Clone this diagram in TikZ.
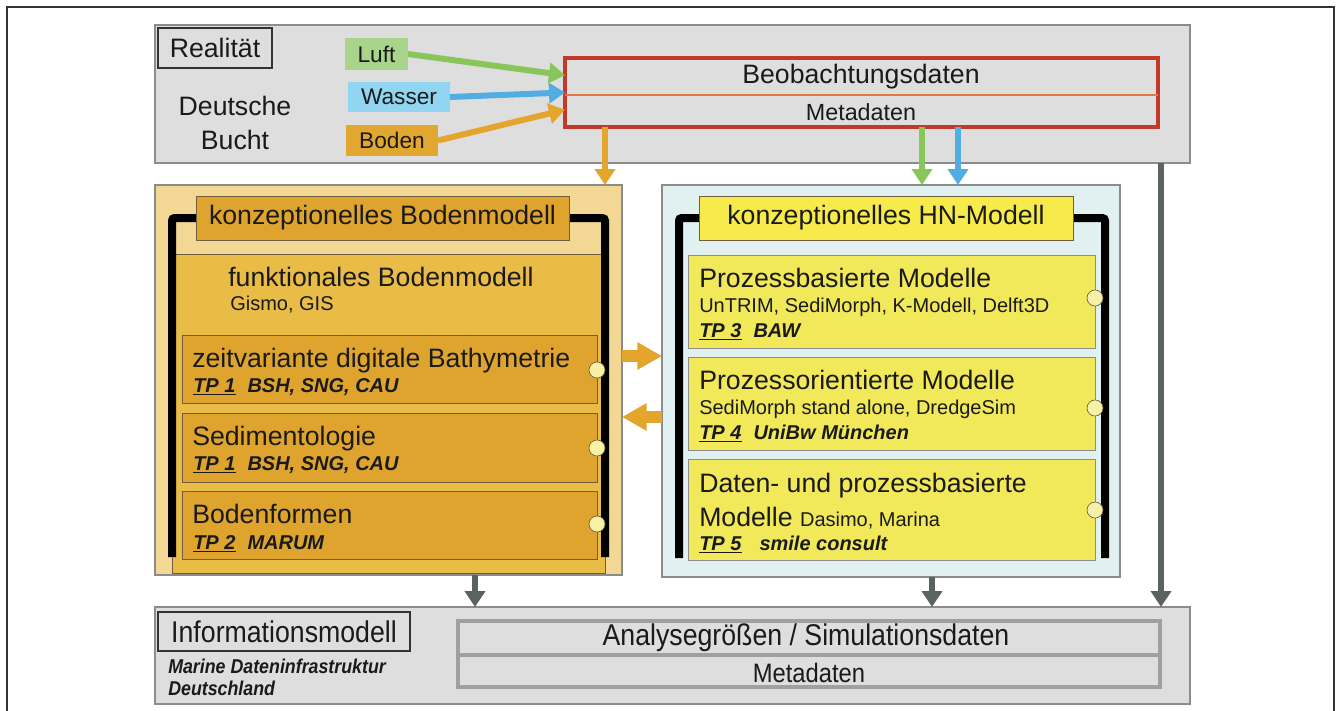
\documentclass[tikz,border=0pt]{standalone}
\usepackage{fontspec}
\setmainfont{Liberation Sans}
\newfontfamily\narrowfont[FakeStretch=0.89]{Liberation Sans}
\usetikzlibrary{arrows.meta,fit,calc}

\definecolor{grayfill}{HTML}{DEDEDE}
\definecolor{grayline}{HTML}{8C8C8C}
\definecolor{framec}{HTML}{333333}
\definecolor{tanfill}{HTML}{F2D894}
\definecolor{innerfill}{HTML}{E8BC46}
\definecolor{subfill}{HTML}{DEA42E}
\definecolor{brownline}{HTML}{6E5E3E}
\definecolor{cyanfill}{HTML}{E1F1F2}
\definecolor{yeltitle}{HTML}{F6EB4B}
\definecolor{yelsub}{HTML}{F1E85A}
\definecolor{dotfill}{HTML}{F6F1A6}
\definecolor{greenarr}{HTML}{88C65A}
\definecolor{greenfill}{HTML}{A9D48C}
\definecolor{bluearr}{HTML}{52ADE2}
\definecolor{bluefill}{HTML}{92D5F0}
\definecolor{orangearr}{HTML}{E3A52B}
\definecolor{bodenfill}{HTML}{E2A730}
\definecolor{redc}{HTML}{C0392B}
\definecolor{divline}{HTML}{E07A40}
\definecolor{darkarr}{HTML}{5A6362}
\definecolor{analline}{HTML}{A0A0A0}
\definecolor{txtc}{HTML}{1A1A1A}

\newcommand\fbig{\fontsize{20}{25}\selectfont}
\newcommand\fmid{\fontsize{17}{20}\selectfont}
\newcommand\fmeta{\fontsize{17.5}{21}\selectfont}
\newcommand\fsmall{\fontsize{15}{18}\selectfont}
\newcommand\fnbig{\narrowfont\fontsize{22.5}{27}\selectfont}
\newcommand\fnmid{\narrowfont\fontsize{20}{24}\selectfont}
\newcommand\fnsmall{\narrowfont\bfseries\itshape\fontsize{15}{18}\selectfont}
\newcommand\tpline[2]{{\fsmall\bfseries\itshape\underline{#1}\hspace{0.6em}#2}}

\tikzset{
  fitbox/.style={rectangle, inner sep=0pt, outer sep=0pt},
  graybox/.style={fitbox, draw=grayline, fill=grayfill, line width=1.2pt},
  labelbox/.style={fitbox, draw=framec, fill=grayfill, line width=0.8pt},
  colbox/.style={fitbox, fill=#1},
  subbox/.style={fitbox, draw=brownline, fill=subfill, line width=0.7pt},
  yelbox/.style={fitbox, draw=grayline, fill=yelsub, line width=0.7pt},
  bracket/.style={line width=6pt, black, rounded corners=2pt},
  dot/.style={circle, draw=brownline, fill=dotfill, line width=0.5pt, minimum size=12pt, inner sep=0pt},
  txt/.style={anchor=base west, inner sep=0pt, text=txtc},
  ctxt/.style={inner sep=0pt, text=txtc},
  thinarrow/.style={line width=4.5pt, draw=#1, -{Triangle[width=15pt,length=12pt]}},
  blockarrow/.style={line width=9pt, draw=orangearr, -{Triangle[width=19.5pt,length=18.5pt]}}
}

\begin{document}
\begin{tikzpicture}[x=0.75pt,y=-0.75pt]
\useasboundingbox (0,0) rectangle (1340,711);
\fill[white] (0,0) rectangle (1340,711);
\draw[framec, line width=1pt] (7,720) -- (7,7) -- (1334,7) -- (1334,720);

% ---------- Realitaet ----------
\node[graybox, fit={(155,25) (1190,163)}] (real) {};
\node[labelbox, fit={(158,28) (272,68)}] (reallab) {};
\node[ctxt, font=\fbig] (realt) at (reallab.center) {Realität};
\node[ctxt, font=\fbig, align=center] (bucht) at (235,123) {Deutsche\\Bucht};
\node[colbox=greenfill, fit={(345,38) (408,70)}] (luft) {};
\node[ctxt, font=\fmid] (luftt) at (luft.center) {Luft};
\node[colbox=bluefill, fit={(348,82) (450,112)}] (wasser) {};
\node[ctxt, font=\fmid] (wassert) at (wasser.center) {Wasser};
\node[colbox=bodenfill, fit={(346,125) (438,156)}] (boden) {};
\node[ctxt, font=\fmid] (bodent) at (boden.center) {Boden};
\node[fitbox, draw=redc, fill=grayfill, line width=2.3pt, fit={(565,58) (1158,127)}] (beob) {};
\coordinate (ydiv) at (0,95);
\draw[divline, line width=1pt] (beob.west |- ydiv) -- (beob.east |- ydiv);
\node[ctxt, font=\fbig] (beobt) at (861,77) {Beobachtungsdaten};
\node[ctxt, font=\fmeta] (beobm) at (861,112) {Metadaten};

\draw[thinarrow=greenarr] (luft.east) -- ($(beob.north west)!0.25!(beob.south west)$);
\draw[thinarrow=bluearr] (wasser.east) -- ($(beob.north west)!0.5!(beob.south west)$);
\draw[thinarrow=orangearr] (boden.east) -- ($(beob.north west)!0.75!(beob.south west)$);

% ---------- Bodenmodell ----------
\node[fitbox, draw=grayline, fill=tanfill, line width=1pt, fit={(155,185) (622,575)}] (lbox) {};
\node[fitbox, draw=brownline, fill=innerfill, line width=0.6pt, fit={(172,254) (605,573)}] (lfunk) {};
\draw[bracket] (196,218) -- (172,218) -- (172,557);
\draw[bracket] (569,218) -- (605,218) -- (605,557);
\node[fitbox, draw=brownline, fill=subfill, line width=0.7pt, fit={(196,196) (569,240)}] (ltitle) {};
\node[ctxt, font=\fbig] (ltitlet) at (ltitle.center) {konzeptionelles Bodenmodell};
\node[txt, font=\fbig] (funk1) at (228,286) {funktionales Bodenmodell};
\node[txt, font=\fsmall] (funk2) at (230,310) {Gismo, GIS};
\node[subbox, fit={(182,335) (597,403)}] (lzeit) {};
\node[subbox, fit={(182,413) (597,482)}] (lsed) {};
\node[subbox, fit={(182,491) (597,559)}] (lform) {};
\node[txt, font=\fbig] (zeit1) at (192,367) {zeitvariante digitale Bathymetrie};
\node[txt] (zeit2) at (193,392) {\tpline{TP 1}{BSH, SNG, CAU}};
\node[txt, font=\fbig] (sed1) at (192,445) {Sedimentologie};
\node[txt] (sed2) at (193,470) {\tpline{TP 1}{BSH, SNG, CAU}};
\node[txt, font=\fbig] (form1) at (192,523) {Bodenformen};
\node[txt] (form2) at (193,549) {\tpline{TP 2}{MARUM}};
\node[dot] (d1) at (597,370) {};
\node[dot] (d2) at (597,448) {};
\node[dot] (d3) at (597,524) {};

% ---------- HN-Modell ----------
\node[fitbox, draw=grayline, fill=cyanfill, line width=1pt, fit={(662,185) (1120,577)}] (hn) {};
\draw[bracket] (699,218) -- (679,218) -- (679,558);
\draw[bracket] (1073,218) -- (1105,218) -- (1105,558);
\node[fitbox, draw=brownline, fill=yeltitle, line width=0.7pt, fit={(699,196) (1073,240)}] (rtitle) {};
\node[ctxt, font=\fbig] (rtitlet) at (rtitle.center) {konzeptionelles HN-Modell};
\node[yelbox, fit={(688,255) (1095,348)}] (rproz) {};
\node[yelbox, fit={(688,357) (1095,450)}] (rorient) {};
\node[yelbox, fit={(688,459) (1095,560)}] (rdaten) {};
\node[txt, font=\fbig] (p1) at (699,287) {Prozessbasierte Modelle};
\node[txt, font=\fsmall] (p2) at (699,312) {UnTRIM, SediMorph, K-Modell, Delft3D};
\node[txt] (p3) at (699,337) {\tpline{TP 3}{BAW}};
\node[txt, font=\fbig] (o1) at (699,389) {Prozessorientierte Modelle};
\node[txt, font=\fsmall] (o2) at (699,414) {SediMorph stand alone, DredgeSim};
\node[txt] (o3) at (699,439) {\tpline{TP 4}{UniBw München}};
\node[txt, font=\fbig] (da1) at (699,492) {Daten- und prozessbasierte};
\node[txt, font=\fbig] (da2) at (699,526) {Modelle {\fsmall Dasimo, Marina}};
\node[txt] (da3) at (699,550) {\tpline{TP 5}{\hspace{0.3em}smile consult}};
\node[dot] (d4) at (1095,298) {};
\node[dot] (d5) at (1095,408) {};
\node[dot] (d6) at (1095,510) {};

% ---------- Informationsmodell ----------
\node[graybox, fit={(155,607) (1190,704)}] (info) {};
\node[labelbox, fit={(158,612) (410,651)}] (infolab) {};
\node[ctxt, font=\fnbig] (infolabt) at (infolab.center) {Informationsmodell};
\node[txt, font=\fnsmall] (mdi1) at (168,673) {Marine Dateninfrastruktur};
\node[txt, font=\fnsmall] (mdi2) at (168,695) {Deutschland};
\node[fitbox, draw=analline, fill=grayfill, line width=3pt, fit={(458,621) (1160,687)}] (anal) {};
\coordinate (ydiv2) at (0,655);
\draw[analline, line width=3pt] (anal.west |- ydiv2) -- (anal.east |- ydiv2);
\node[ctxt, font=\fnbig] (analt) at (806,638) {Analysegrößen / Simulationsdaten};
\node[ctxt, font=\fnmid] (analm) at (809,673) {Metadaten};

% ---------- connectors ----------
\coordinate (xo) at (605,0);
\coordinate (xg) at (922,0);
\coordinate (xb) at (958,0);
\coordinate (xd1) at (475,0);
\coordinate (xd2) at (932,0);
\coordinate (xd3) at (1161,0);
\coordinate (ya) at (0,356);
\coordinate (yb) at (0,417);
\draw[thinarrow=orangearr] (beob.south -| xo) -- (lbox.north -| xo);
\draw[thinarrow=greenarr] (beob.south -| xg) -- (hn.north -| xg);
\draw[thinarrow=bluearr] (beob.south -| xb) -- (hn.north -| xb);
\draw[blockarrow] (lbox.east |- ya) -- (hn.west |- ya);
\draw[blockarrow] (hn.west |- yb) -- (lbox.east |- yb);
\draw[thinarrow=darkarr] (lbox.south -| xd1) -- (info.north -| xd1);
\draw[thinarrow=darkarr] (hn.south -| xd2) -- (info.north -| xd2);
\draw[thinarrow=darkarr] (real.south -| xd3) -- (info.north -| xd3);
\end{tikzpicture}
\end{document}
